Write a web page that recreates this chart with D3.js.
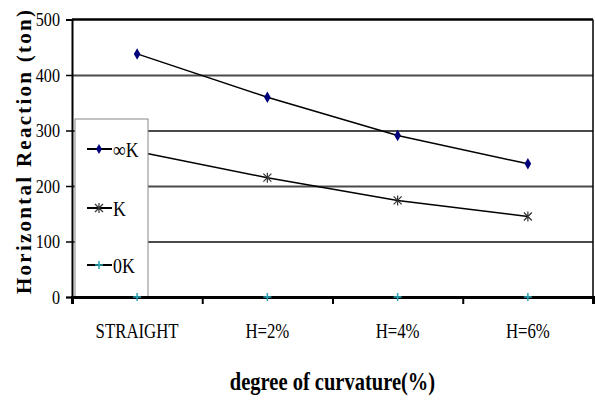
<!DOCTYPE html>
<html>
<head>
<meta charset="utf-8">
<script src="https://cdn.jsdelivr.net/npm/d3@7"></script>
<style>
  body { margin: 0; background: #fff; }
  svg { display: block; }
  text { font-family: "Liberation Serif", "Times New Roman", "DejaVu Serif", serif; fill: #000; }
</style>
</head>
<body>
<script>
// data
var categories = ["STRAIGHT", "H=2%", "H=4%", "H=6%"];
var infK = [438, 360, 291, 240];
var kVals = [262, 215, 174, 145];
var zeroK = [0, 0, 0, 0];
var yTicks = [0, 100, 200, 300, 400, 500];
var seriesNames = ["\u221EK", "K", "0K"];

var W = 595, H = 405;
var plotLeft = 72, plotRight = 593, plotTop = 19.5, plotBottom = 297;
var serif = '"Liberation Serif", "Times New Roman", "DejaVu Serif", serif';

var svg = d3.select("body").append("svg")
  .attr("width", W)
  .attr("height", H);

var x = d3.scaleBand().domain(categories).range([plotLeft, plotRight]);
var y = d3.scaleLinear().domain([0, 500]).range([plotBottom, plotTop]);

// gridlines
svg.append("g")
  .attr("transform", "translate(" + plotLeft + ",0)")
  .call(d3.axisLeft(y).tickValues(yTicks.slice(1, 5)).tickSize(-(plotRight - plotLeft)).tickFormat(""))
  .call(g => g.select(".domain").remove())
  .call(g => g.selectAll("line").attr("stroke", "#4a4a4a").attr("stroke-width", 2));

// plot frame: top and right
svg.append("line").attr("x1", plotLeft).attr("x2", plotRight).attr("y1", y(500)).attr("y2", y(500))
  .attr("stroke", "#000").attr("stroke-width", 2.5);
svg.append("line").attr("x1", plotRight).attr("x2", plotRight).attr("y1", y(500)).attr("y2", plotBottom + 2)
  .attr("stroke", "#000").attr("stroke-width", 1.5);

var line = d3.line()
  .x((d, i) => x(categories[i]) + x.bandwidth() / 2)
  .y(d => y(d));

var cx = (d, i) => x(categories[i]) + x.bandwidth() / 2;

// infinity K series
svg.append("path").datum(infK).attr("d", line)
  .attr("fill", "none").attr("stroke", "#000").attr("stroke-width", 1.5);
svg.append("g").selectAll("path").data(infK).join("path")
  .attr("d", d3.symbol(d3.symbolDiamond).size(38))
  .attr("transform", (d, i) => "translate(" + cx(d, i) + "," + y(d) + ")")
  .attr("fill", "#00007a");

// K series
var starPath = "M-4,-4L4,4M-4,4L4,-4M0,-5L0,5";
svg.append("path").datum(kVals).attr("d", line)
  .attr("fill", "none").attr("stroke", "#000").attr("stroke-width", 1.5);
svg.append("g").selectAll("path").data(kVals).join("path")
  .attr("d", starPath)
  .attr("transform", (d, i) => "translate(" + cx(d, i) + "," + y(d) + ")")
  .attr("fill", "none").attr("stroke", "#333").attr("stroke-width", 1.2);

// legend box
var legend = svg.append("g");
legend.append("rect")
  .attr("x", 75).attr("y", 119).attr("width", 73).attr("height", 178)
  .attr("fill", "#fff").attr("stroke", "#888").attr("stroke-width", 1);

var plusPath = "M-4,0L4,0M0,-4L0,4";
var legendY = [149, 208, 265];
seriesNames.forEach(function(name, i) {
  var row = legend.append("g").attr("transform", "translate(0," + legendY[i] + ")");
  row.append("line").attr("x1", 87).attr("x2", 112).attr("y1", 0).attr("y2", 0)
    .attr("stroke", "#000").attr("stroke-width", 2);
  if (i == 0) {
    row.append("path").attr("d", d3.symbol(d3.symbolDiamond).size(30))
      .attr("transform", "translate(99,0)").attr("fill", "#00007a");
  } else if (i == 1) {
    row.append("path").attr("d", starPath)
      .attr("transform", "translate(99,0)").attr("fill", "none").attr("stroke", "#333").attr("stroke-width", 1.2);
  } else {
    row.append("path").attr("d", plusPath)
      .attr("transform", "translate(99,0)").attr("fill", "none").attr("stroke", "#2aa5b5").attr("stroke-width", 1.5);
  }
  row.append("text")
    .attr("transform", "translate(113,0) scale(0.85,1)")
    .attr("dy", "0.36em")
    .style("font-family", serif)
    .style("font-size", "21px")
    .text(name);
});

// y axis
svg.append("g")
  .attr("transform", "translate(" + plotLeft + ",0)")
  .call(d3.axisLeft(y).tickValues(yTicks).tickSize(6).tickPadding(0))
  .call(g => g.select(".domain").attr("stroke", "#000").attr("stroke-width", 2))
  .call(g => g.selectAll("line").attr("stroke", "#000").attr("stroke-width", 1.5))
  .call(g => g.selectAll("text")
    .attr("x", -12 / 0.85)
    .attr("transform", "scale(0.85,1)")
    .style("font-size", "19px")
    .style("font-family", serif));

// x axis: labels at the band centers
svg.append("g")
  .attr("transform", "translate(0," + plotBottom + ")")
  .call(d3.axisBottom(x).tickSize(0))
  .call(g => g.select(".domain").remove())
  .call(g => g.selectAll("text")
    .attr("y", 27)
    .attr("transform", "scale(0.84,1)")
    .style("font-size", "20px")
    .style("font-family", serif));

// x axis: ticks at the band edges
var edge = d3.scaleLinear().domain([0, categories.length]).range([plotLeft, plotRight]);
svg.append("g")
  .attr("transform", "translate(0," + plotBottom + ")")
  .call(d3.axisBottom(edge).ticks(categories.length).tickSize(7).tickFormat(""))
  .call(g => g.select(".domain").attr("stroke", "#000").attr("stroke-width", 3))
  .call(g => g.selectAll("line").attr("stroke", "#000").attr("stroke-width", 2));

// 0K series sits on the axis
svg.append("path").datum(zeroK).attr("d", line)
  .attr("fill", "none").attr("stroke", "#000").attr("stroke-width", 1.5);
svg.append("g").selectAll("path").data(zeroK).join("path")
  .attr("d", plusPath)
  .attr("transform", (d, i) => "translate(" + cx(d, i) + "," + y(d) + ")")
  .attr("fill", "none").attr("stroke", "#2aa5b5").attr("stroke-width", 1.5);

// axis titles
svg.append("text")
  .attr("transform", "translate(" + ((plotLeft + plotRight) / 2) + ",390) scale(0.82,1)")
  .attr("text-anchor", "middle")
  .style("font-family", serif)
  .style("font-size", "25px")
  .style("font-weight", "bold")
  .text("degree of curvature(%)");

svg.append("text")
  .attr("transform", "translate(31,152) rotate(-90)")
  .attr("text-anchor", "middle")
  .attr("textLength", 284)
  .attr("lengthAdjust", "spacing")
  .style("font-family", serif)
  .style("font-size", "21px")
  .style("font-weight", "bold")
  .text("Horizontal Reaction (ton)");
</script>
</body>
</html>
